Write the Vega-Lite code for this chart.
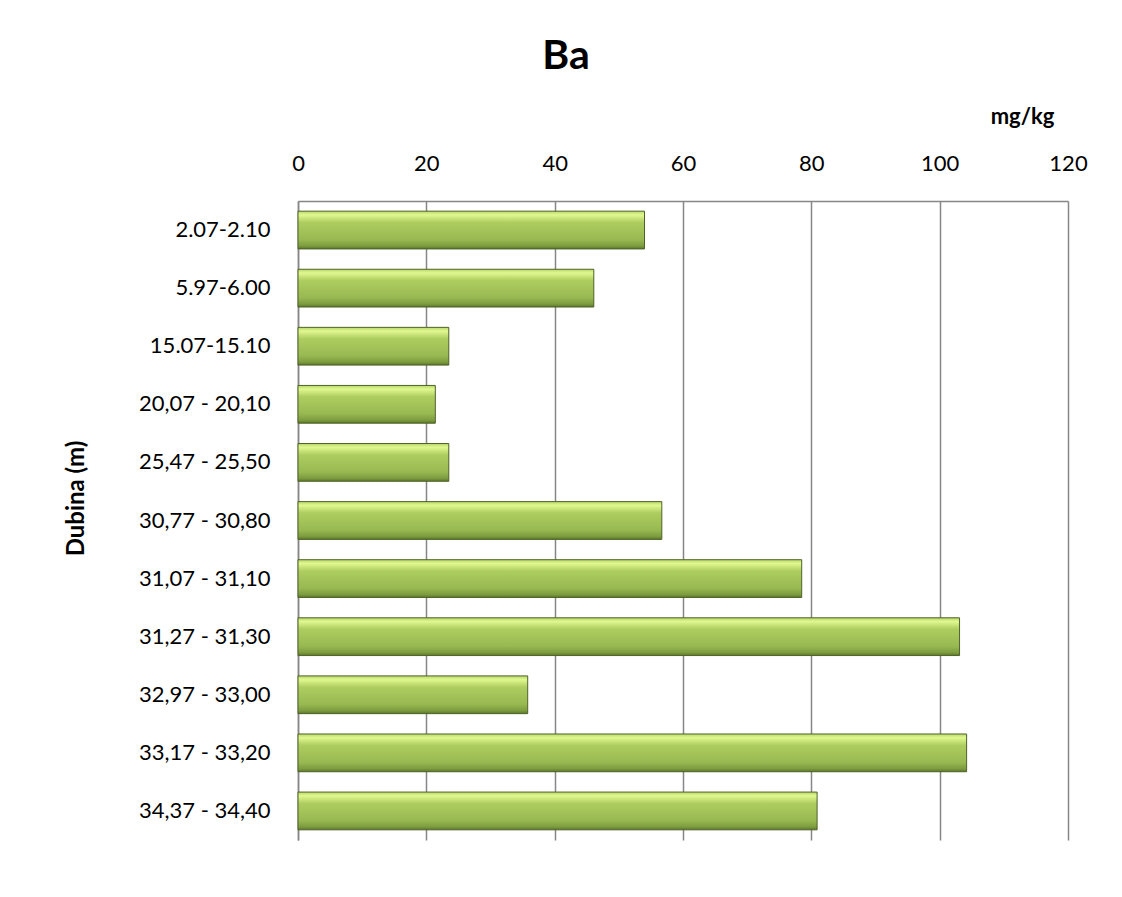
{
  "$schema": "https://vega.github.io/schema/vega-lite/v6.json",
  "width": 770,
  "height": 639,
  "autosize": {"type": "none"},
  "padding": {"left": 298, "top": 201, "right": 54, "bottom": 57},
  "background": "white",
  "title": {
    "text": "Ba",
    "font": "Lato",
    "fontSize": 41,
    "fontWeight": "bold",
    "color": "#000000",
    "anchor": "middle",
    "frame": "group",
    "dx": -117,
    "offset": 27
  },
  "data": {
    "values": [
      {"depth": "2.07-2.10", "ba": 54.0},
      {"depth": "5.97-6.00", "ba": 46.1},
      {"depth": "15.07-15.10", "ba": 23.5},
      {"depth": "20,07 - 20,10", "ba": 21.4},
      {"depth": "25,47 - 25,50", "ba": 23.5},
      {"depth": "30,77 - 30,80", "ba": 56.7},
      {"depth": "31,07 - 31,10", "ba": 78.5},
      {"depth": "31,27 - 31,30", "ba": 103.1},
      {"depth": "32,97 - 33,00", "ba": 35.8},
      {"depth": "33,17 - 33,20", "ba": 104.2},
      {"depth": "34,37 - 34,40", "ba": 80.9}
    ]
  },
  "mark": {
    "type": "bar",
    "color": {
      "gradient": "linear",
      "x1": 0, "y1": 0, "x2": 0, "y2": 1,
      "stops": [
        {"offset": 0, "color": "#b9d86a"},
        {"offset": 0.1, "color": "#e0f890"},
        {"offset": 0.3, "color": "#aecd60"},
        {"offset": 0.75, "color": "#98b952"},
        {"offset": 0.92, "color": "#7d9c3f"},
        {"offset": 1, "color": "#5a7628"}
      ]
    },
    "stroke": "#4f6228",
    "strokeWidth": 1
  },
  "encoding": {
    "y": {
      "field": "depth",
      "type": "nominal",
      "sort": null,
      "scale": {"paddingInner": 0.35, "paddingOuter": 0.175},
      "axis": {
        "title": "Dubina (m)",
        "titleFont": "Lato",
        "titleFontSize": 24,
        "titleFontWeight": "bold",
        "titleColor": "#000000",
        "titleAngle": -90,
        "titleBaseline": "middle",
        "titleAlign": "center",
        "titleX": -222,
        "titleY": 297,
        "labelFont": "Lato",
        "labelFontSize": 22,
        "labelColor": "#000000",
        "labelPadding": 28,
        "ticks": false,
        "tickSize": 0,
        "domainColor": "#868686",
        "domainWidth": 1.5
      }
    },
    "x": {
      "field": "ba",
      "type": "quantitative",
      "scale": {"domain": [0, 120], "nice": false},
      "axis": {
        "orient": "top",
        "values": [0, 20, 40, 60, 80, 100, 120],
        "title": "mg/kg",
        "titleFont": "Lato",
        "titleFontSize": 22,
        "titleFontWeight": "bold",
        "titleColor": "#000000",
        "titleAlign": "center",
        "titleBaseline": "alphabetic",
        "titleX": 724,
        "titleY": -78,
        "labelFont": "Lato",
        "labelFontSize": 22,
        "labelColor": "#000000",
        "labelPadding": 26,
        "labelBaseline": "bottom",
        "labelFlush": false,
        "ticks": false,
        "tickSize": 0,
        "grid": true,
        "gridColor": "#868686",
        "gridWidth": 1.5,
        "domainColor": "#868686",
        "domainWidth": 1.5
      }
    }
  },
  "config": {
    "view": {"stroke": null}
  }
}
